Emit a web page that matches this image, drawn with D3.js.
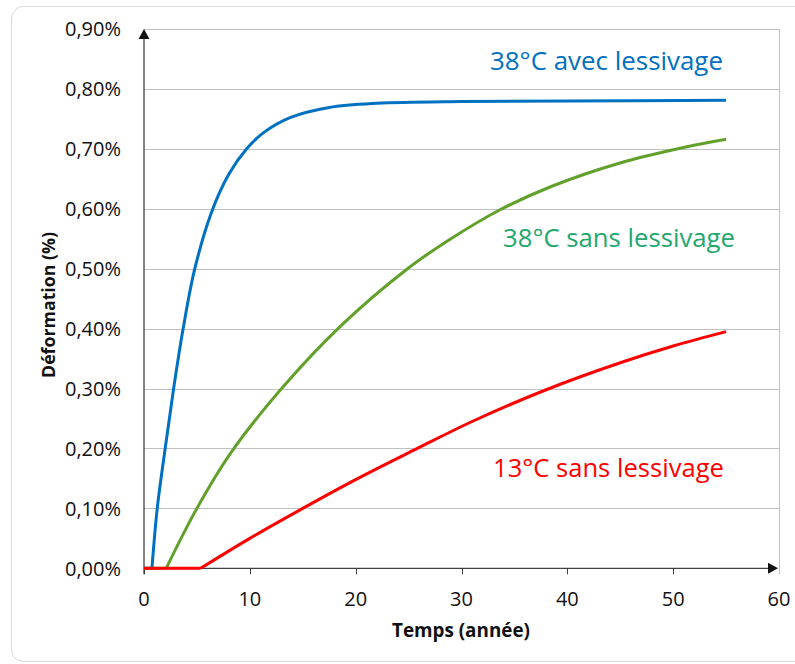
<!DOCTYPE html>
<html><head><meta charset="utf-8">
<script src="https://cdn.jsdelivr.net/npm/d3@7"></script>
<style>html,body{margin:0;padding:0;background:#fff;}svg{display:block;font-family:"Open Sans",sans-serif;}</style>
</head><body>
<svg id="c" width="795" height="664"></svg>
<script>
// ---- data (years, deformation %) ----
const blueX  = [0, 0.75, 1.25, 2.0, 2.8, 3.7, 4.8, 6.4, 8.0, 9.7, 11.3, 13.8, 17.5, 22, 30, 40, 55];
const blueY  = [0, 0, 0.10, 0.20, 0.30, 0.40, 0.50, 0.595, 0.657, 0.70, 0.727, 0.752, 0.769, 0.776, 0.779, 0.780, 0.781];
const greenX = [0, 2.1, 5.0, 8.3, 13.0, 18.5, 24.9, 29.0, 33.6, 38.6, 44.9, 51.2, 55];
const greenY = [0, 0, 0.10, 0.195, 0.30, 0.403, 0.50, 0.550, 0.598, 0.638, 0.676, 0.703, 0.716];
const redX   = [0, 5.35, 10, 15, 20, 25.6, 31, 38, 45, 50, 55];
const redY   = [0, 0, 0.05, 0.10, 0.148, 0.198, 0.245, 0.298, 0.343, 0.371, 0.395];
const seriesNames = ["38°C avec lessivage", "38°C sans lessivage", "13°C sans lessivage"];
const xTicks = [0, 10, 20, 30, 40, 50, 60];
const yTicks = [0, 0.1, 0.2, 0.3, 0.4, 0.5, 0.6, 0.7, 0.8, 0.9];
const xTitle = "Temps (année)";
const yTitle = "Déformation (%)";

const svg = d3.select("#c");
const x = d3.scaleLinear().domain([0, 60]).range([144, 779]);
const y = d3.scaleLinear().domain([0, 0.9]).range([568.3, 29]);

// outer rounded frame
svg.append("rect").attr("x", 11.5).attr("y", 6.5).attr("width", 800).attr("height", 655)
  .attr("rx", 12).attr("fill", "none").attr("stroke", "#d9d9d9").attr("stroke-width", 1);

function fit(sel, target) {
  const w = sel.node().getComputedTextLength();
  const fs = parseFloat(sel.attr("font-size"));
  sel.attr("font-size", (fs * target / w).toFixed(2));
}

// gridlines
svg.append("g").selectAll("line").data(yTicks.slice(1)).join("line")
  .attr("x1", x(0)).attr("x2", x(60)).attr("y1", d => Math.round(y(d)) + 0.5).attr("y2", d => Math.round(y(d)) + 0.5)
  .attr("stroke", "#c0c0c0").attr("stroke-width", 1);
// right border
svg.append("line").attr("x1", x(60) + 0.5).attr("x2", x(60) + 0.5).attr("y1", y(0.9)).attr("y2", y(0) + 6)
  .attr("stroke", "#c0c0c0");

// x axis ticks
svg.append("g").selectAll("line").data(xTicks.slice(0, -1)).join("line")
  .attr("x1", d => Math.round(x(d)) + 0.5).attr("x2", d => Math.round(x(d)) + 0.5)
  .attr("y1", y(0)).attr("y2", y(0) + 6).attr("stroke", "#404040");

// y tick labels
svg.append("g").selectAll("text").data(yTicks).join("text")
  .attr("x", 121).attr("y", d => y(d) + 7.3).attr("text-anchor", "end")
  .attr("font-size", 20).attr("fill", "#111")
  .text(d => d3.format(".2f")(d).replace(".", ",") + "%");
// x tick labels
svg.append("g").selectAll("text").data(xTicks).join("text")
  .attr("x", d => x(d)).attr("y", 606).attr("text-anchor", "middle")
  .attr("font-size", 20).attr("fill", "#111").text(d => d);

// axes lines with arrows
svg.append("line").attr("x1", x(0)).attr("x2", x(0)).attr("y1", y(0) + 6).attr("y2", y(0.9) + 6)
  .attr("stroke", "#404040").attr("stroke-width", 1.3);
svg.append("path").attr("d", `M${x(0)},${y(0.9)} l-5.5,10 l11,0 Z`).attr("fill", "#111");
svg.append("line").attr("x1", x(0)).attr("x2", x(60) - 6).attr("y1", y(0)).attr("y2", y(0))
  .attr("stroke", "#404040").attr("stroke-width", 1.3);
svg.append("path").attr("d", `M${x(60) - 1},${y(0)} l-10,-5.5 l0,11 Z`).attr("fill", "#111");

// curves
const seriesData = [
  {xs: blueX, ys: blueY, color: "#0070c0"},
  {xs: greenX, ys: greenY, color: "#62a02c"},
  {xs: redX, ys: redY, color: "#ff0000"}
];
const lineLin = d3.line().x(d => x(d[0])).y(d => y(d[1]));
const lineCurve = d3.line().x(d => x(d[0])).y(d => y(d[1])).curve(d3.curveCatmullRom.alpha(0.5));
seriesData.forEach(s => {
  const pts = s.xs.map((v, i) => [v, s.ys[i]]);
  let k = 0; while (k + 1 < pts.length && pts[k + 1][1] === 0) k++;
  svg.append("path").attr("d", lineLin(pts.slice(0, k + 1))).attr("fill", "none")
    .attr("stroke", s.color).attr("stroke-width", 3);
  svg.append("path").attr("d", lineCurve(pts.slice(k))).attr("fill", "none")
    .attr("stroke", s.color).attr("stroke-width", 3).attr("stroke-linejoin", "round");
});

// series labels
const labelPos = [
  {x: 490, y: 70, w: 233, color: "#0070c0"},
  {x: 503, y: 247, w: 232, color: "#22a86c"},
  {x: 493, y: 477, w: 231, color: "#ff0000"}
];
seriesNames.forEach((n, i) => {
  const t = svg.append("text").attr("x", labelPos[i].x).attr("y", labelPos[i].y)
    .attr("font-size", 24).attr("fill", labelPos[i].color).text(n);
  fit(t, labelPos[i].w);
});

// axis titles
const xt = svg.append("text").attr("x", 392).attr("y", 637).attr("font-size", 17)
  .attr("font-weight", "bold").attr("fill", "#111").text(xTitle);
fit(xt, 138);
const yt = svg.append("text").attr("transform", "translate(55,378) rotate(-90)")
  .attr("font-size", 17).attr("font-weight", "bold").attr("fill", "#111").text(yTitle);
fit(yt, 146);
</script>
</body></html>
